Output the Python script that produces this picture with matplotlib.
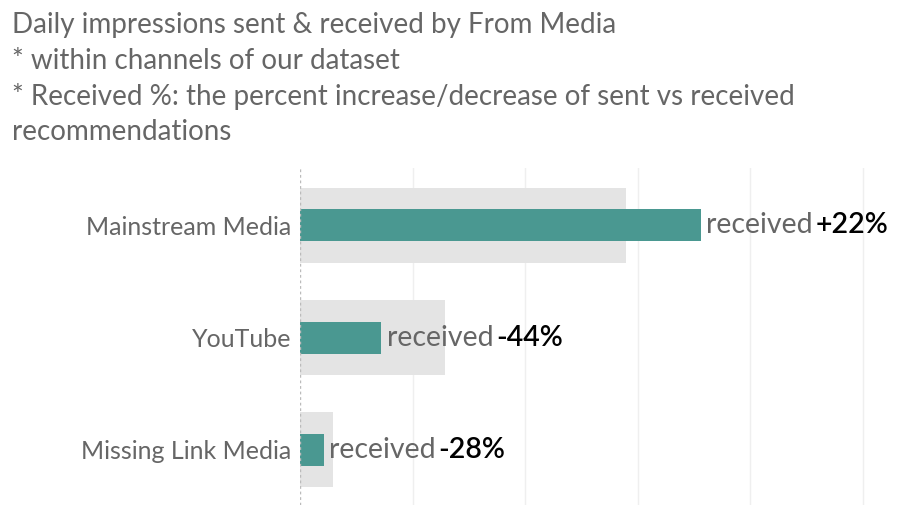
import matplotlib
matplotlib.use("Agg")
import matplotlib.pyplot as plt

categories = ["Mainstream Media", "YouTube", "Missing Link Media"]
sent = [2.90, 1.29, 0.293]
received = [3.56, 0.72, 0.211]
pct_labels = ["+22%", "-44%", "-28%"]

title_lines = [
    "Daily impressions sent & received by From Media",
    "* within channels of our dataset",
    "* Received %: the percent increase/decrease of sent vs received",
    "recommendations",
]

FONT = "Lato"
W, H = 902, 505
fig = plt.figure(figsize=(W / 100, H / 100), dpi=100)
ax = fig.add_axes([300 / W, 0, (W - 300) / W, (505 - 168) / H])

ys = list(range(len(categories)))
ax.barh(ys, sent, height=0.667, color="#E4E4E4", zorder=2)
ax.barh(ys, received, height=0.285, color="#4A9891", zorder=3)

ax.set_xlim(0, (W - 300) / 112.5)
ax.set_ylim(2.49, -0.51)
ax.set_xticks([1, 2, 3, 4, 5])
ax.xaxis.grid(True, color="#EFEFEF", linewidth=1, zorder=0)
ax.tick_params(axis="x", length=0, labelbottom=False)
ax.axvline(0, color="#BBBBBB", linestyle=(0, (2, 2)), linewidth=1, zorder=4)
for s in ax.spines.values():
    s.set_visible(False)

ax.set_yticks(ys)
ax.set_yticklabels(categories, family=FONT, fontsize=18, color="#666666")
ax.tick_params(axis="y", length=0, pad=6)

for i, (r, lab) in enumerate(zip(received, pct_labels)):
    t1 = ax.annotate("received", xy=(r, i), xytext=(4, 0), textcoords="offset points",
                     va="center", ha="left", family=FONT, fontsize=20.5, color="#666666")
    ax.annotate(lab, xy=(1, 0.5), xycoords=t1, xytext=(2, 0), textcoords="offset points",
                va="center", ha="left", family=FONT, fontsize=20.5, color="#000000",
                fontweight="semibold")

line_y = [25, 61, 97, 132]
for txt, yy in zip(title_lines, line_y):
    fig.text(12 / W, 1 - yy / H, txt, family=FONT, fontsize=20, color="#666666",
             va="center", ha="left")

fig.savefig("out.png", dpi=100)
